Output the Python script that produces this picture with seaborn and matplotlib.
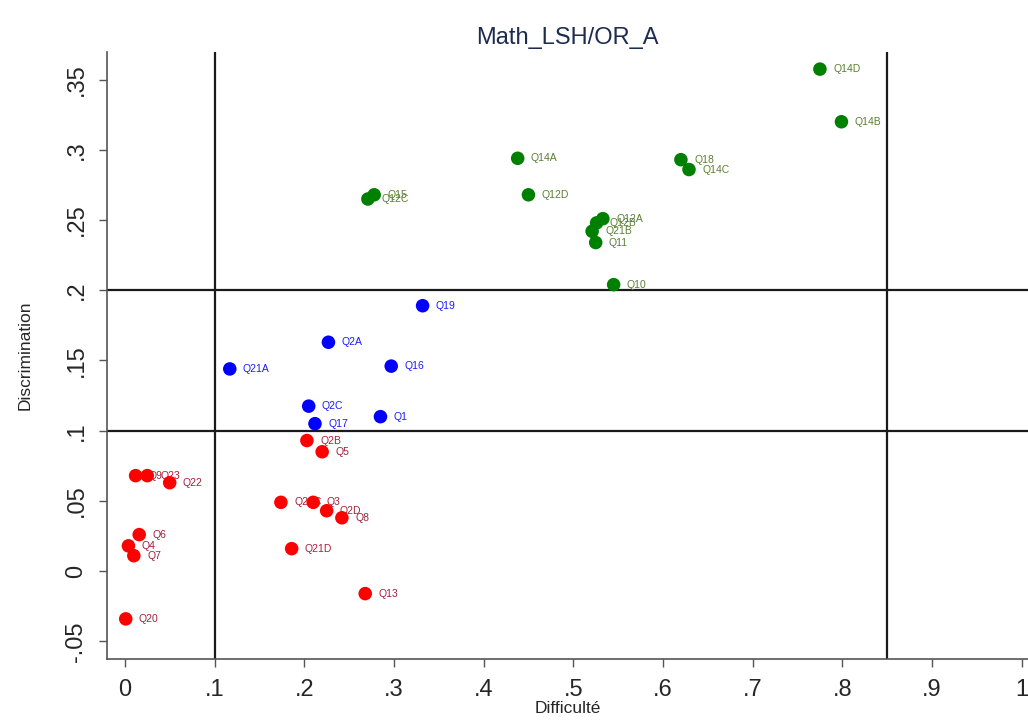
import pandas as pd
import matplotlib
matplotlib.use('Agg')
import matplotlib.pyplot as plt
import seaborn as sns
from matplotlib.ticker import FixedLocator

# item labels, difficulty (x) and discrimination (y)
green_items = ['Q14D', 'Q14B', 'Q18', 'Q14C', 'Q14A', 'Q12D', 'Q15', 'Q12C',
               'Q12A', 'Q12B', 'Q21B', 'Q11', 'Q10']
green_diff = [0.775, 0.799, 0.620, 0.629, 0.438, 0.450, 0.278, 0.271,
              0.533, 0.526, 0.521, 0.525, 0.545]
green_disc = [0.3575, 0.320, 0.293, 0.286, 0.294, 0.268, 0.268, 0.265,
              0.251, 0.248, 0.242, 0.234, 0.204]

blue_items = ['Q19', 'Q2A', 'Q21A', 'Q16', 'Q2C', 'Q17', 'Q1']
blue_diff = [0.332, 0.227, 0.117, 0.297, 0.205, 0.212, 0.285]
blue_disc = [0.189, 0.163, 0.144, 0.146, 0.1175, 0.105, 0.110]

red_items = ['Q2B', 'Q5', 'Q21C', 'Q3', 'Q2D', 'Q8', 'Q21D', 'Q13', 'Q20',
             'Q6', 'Q4', 'Q7', 'Q22', 'Q9', 'Q23']
red_diff = [0.203, 0.220, 0.174, 0.210, 0.225, 0.242, 0.186, 0.268, 0.001,
            0.016, 0.004, 0.010, 0.050, 0.012, 0.025]
red_disc = [0.093, 0.085, 0.049, 0.049, 0.043, 0.038, 0.016, -0.016, -0.034,
            0.026, 0.018, 0.011, 0.063, 0.068, 0.068]

x_ticks = [0, .1, .2, .3, .4, .5, .6, .7, .8, .9, 1]
x_ticklabels = ['0', '.1', '.2', '.3', '.4', '.5', '.6', '.7', '.8', '.9', '1']
y_ticks = [-.05, 0, .05, .1, .15, .2, .25, .3, .35]
y_ticklabels = ['-.05', '0', '.05', '.1', '.15', '.2', '.25', '.3', '.35']

df = pd.concat([
    pd.DataFrame({'item': green_items, 'diff': green_diff, 'disc': green_disc, 'grp': 'good'}),
    pd.DataFrame({'item': blue_items, 'diff': blue_diff, 'disc': blue_disc, 'grp': 'mid'}),
    pd.DataFrame({'item': red_items, 'diff': red_diff, 'disc': red_disc, 'grp': 'bad'}),
])

marker_colors = {'good': '#008000', 'mid': '#0000ff', 'bad': '#ff0000'}
text_colors = {'good': '#5b7f32', 'mid': '#1a1aff', 'bad': '#a3203c'}

sns.set_style('white')
plt.rcParams['font.family'] = ['Liberation Sans', 'DejaVu Sans']

fig = plt.figure(figsize=(10.28, 7.22), dpi=100)
ax = fig.add_axes([0.104, 0.087, 0.896, 0.841])

sns.scatterplot(data=df, x='diff', y='disc', hue='grp', palette=marker_colors,
                s=95, linewidth=0, legend=False, ax=ax, zorder=3)

for _, r in df.iterrows():
    ax.annotate(r['item'], (r['diff'], r['disc']), xytext=(9.5, 0),
                textcoords='offset points', va='center', ha='left',
                fontsize=7.5, color=text_colors[r['grp']], zorder=2)

# reference lines
for xv in [0.1, 0.85]:
    ax.axvline(xv, color='#1a1a1a', lw=1.6, zorder=1)
for yv in [0.1, 0.2]:
    ax.axhline(yv, color='#1a1a1a', lw=1.6, zorder=1)

ax.set_xlim(-0.02, 1.007)
ax.set_ylim(-0.0627, 0.3697)
ax.xaxis.set_major_locator(FixedLocator(x_ticks))
ax.set_xticklabels(x_ticklabels)
ax.yaxis.set_major_locator(FixedLocator(y_ticks))
ax.set_yticklabels(y_ticklabels, rotation=90, va='center')

ax.tick_params(axis='both', direction='out', length=6, width=1, color='#555555',
               labelsize=17, bottom=True, left=True, pad=8)

for side in ['top', 'right']:
    ax.spines[side].set_visible(False)
for side in ['left', 'bottom']:
    ax.spines[side].set_color('#555555')
    ax.spines[side].set_linewidth(1.2)

ax.set_xlabel('Difficulté', fontsize=12.5, labelpad=0)
ax.set_ylabel('Discrimination', fontsize=12.5, labelpad=24)
ax.set_title('Math_LSH/OR_A', fontsize=17, color='#1c2b4f', pad=6)

fig.savefig('out.png', dpi=100)
